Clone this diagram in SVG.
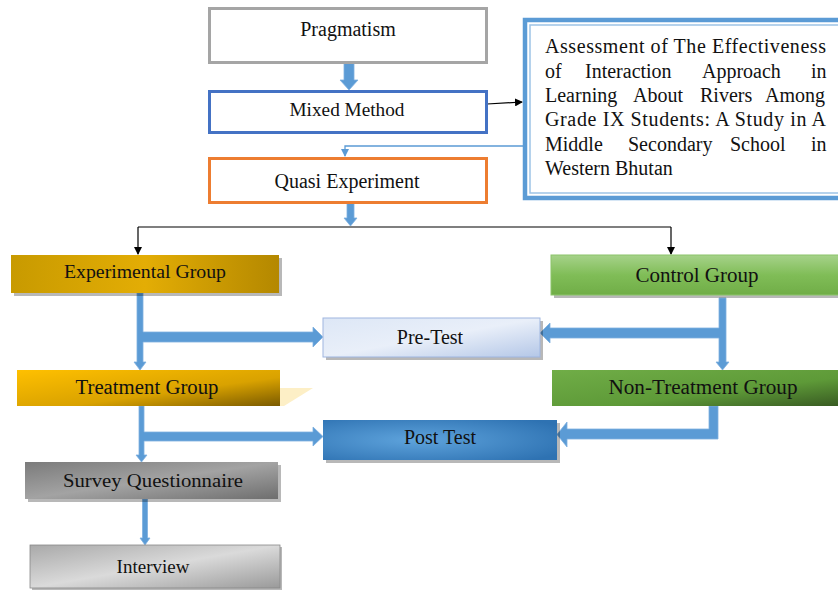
<svg xmlns="http://www.w3.org/2000/svg" width="838" height="590" viewBox="0 0 838 590">
<style>
text{font-family:"Liberation Serif","Times New Roman",serif;fill:#111;}
.lbl{text-anchor:middle;font-size:20px;}
.blk{fill:#5b9bd5;stroke:#7fb0df;stroke-width:0.8;}
.thin{fill:none;stroke:#000;stroke-width:1.2;}
.shadow{fill:#000;opacity:0.28;}
</style>
<defs>
<linearGradient id="gExp" x1="0" y1="0" x2="1" y2="0"><stop offset="0" stop-color="#c89a00"/><stop offset="0.5" stop-color="#e3ad05"/><stop offset="1" stop-color="#b48800"/></linearGradient>
<linearGradient id="gTreat" x1="0" y1="0" x2="1" y2="1"><stop offset="0" stop-color="#ffc000"/><stop offset="0.6" stop-color="#d9a200"/><stop offset="1" stop-color="#7a5a00"/></linearGradient>
<linearGradient id="gCtrl" x1="0" y1="0" x2="0" y2="1"><stop offset="0" stop-color="#a6d28a"/><stop offset="0.5" stop-color="#80bd57"/><stop offset="1" stop-color="#70ad47"/></linearGradient>
<linearGradient id="gNon" x1="0" y1="0" x2="1" y2="1"><stop offset="0" stop-color="#70ad47"/><stop offset="0.6" stop-color="#5e9a38"/><stop offset="1" stop-color="#385a22"/></linearGradient>
<linearGradient id="gPre" x1="0" y1="0" x2="1" y2="1"><stop offset="0" stop-color="#dde7f6"/><stop offset="0.5" stop-color="#e9eff9"/><stop offset="1" stop-color="#b4c7e7"/></linearGradient>
<radialGradient id="gPost" cx="0.4" cy="0.5" r="0.7"><stop offset="0" stop-color="#5ea3dc"/><stop offset="1" stop-color="#2e72b2"/></radialGradient>
<linearGradient id="gSurv" x1="0" y1="0" x2="1" y2="1"><stop offset="0" stop-color="#7b7b7b"/><stop offset="0.5" stop-color="#a3a3a3"/><stop offset="1" stop-color="#6e6e6e"/></linearGradient>
<linearGradient id="gInt" x1="0" y1="0" x2="1" y2="1"><stop offset="0" stop-color="#a9a9a9"/><stop offset="0.5" stop-color="#dadada"/><stop offset="1" stop-color="#9a9a9a"/></linearGradient>
<marker id="ah" markerWidth="8" markerHeight="8" refX="7" refY="4" orient="auto" markerUnits="userSpaceOnUse"><path d="M0,0 L8,4 L0,8 z" fill="#000"/></marker>
<marker id="ahb" markerWidth="8" markerHeight="8" refX="7" refY="4" orient="auto" markerUnits="userSpaceOnUse"><path d="M0,0 L8,4 L0,8 z" fill="#5b9bd5"/></marker>
</defs>

<g id="connectors">
<polygon class="blk" points="344,63 354,63 354,80 358,80 349,90 340,80 344,80"/>
<polyline class="thin" points="487,104 522,102" marker-end="url(#ah)"/>
<polyline fill="none" stroke="#5b9bd5" stroke-width="1.3" points="523,146 345,146 345,156" marker-end="url(#ahb)"/>
<polygon class="blk" points="347,203 354,203 354,218 357,218 350.5,226 344,218 347,218"/>
<polyline class="thin" points="138,227 671,227"/>
<line class="thin" x1="138" y1="227" x2="138" y2="254" marker-end="url(#ah)"/>
<line class="thin" x1="671" y1="227" x2="671" y2="254" marker-end="url(#ah)"/>
<polygon class="blk" points="137,293 143,293 143,332 313,332 313,327 323,337 313,347 313,342 143,342 143,362 146,362 140,370 134,362 137,362"/>
<polygon class="blk" points="719,298 726,298 726,362 729,362 722.5,370 716,362 719,362 719,338 550,338 550,343 540,333 550,323 550,328 719,328"/>
<polygon class="blk" points="139,406 144,406 144,432 313,432 313,427 323,436.5 313,446 313,441 144,441 144,455 147,455 141.5,462 136,455 139,455"/>
<polygon class="blk" points="709,406 718,406 718,439 567,439 567,447 557,434.5 567,422 567,429 709,429"/>
<polygon class="blk" points="142.5,499 147.5,499 147.5,538 150,538 145,545 140,538 142.5,538"/>
</g>

<g id="pragmatism">
<rect x="209.5" y="8.5" width="277" height="54" fill="#fff" stroke="#a5a5a5" stroke-width="3"/>
<text class="lbl" x="348" y="36" font-size="20">Pragmatism</text>
</g>
<g id="mixed-method">
<rect x="209.5" y="91.5" width="277" height="41" fill="#fff" stroke="#4472c4" stroke-width="3"/>
<text class="lbl" x="347" y="116" style="font-size:18px" textLength="115" lengthAdjust="spacingAndGlyphs">Mixed Method</text>
</g>
<g id="quasi-experiment">
<rect x="209.5" y="158.5" width="277" height="44" fill="#fff" stroke="#ed7d31" stroke-width="3"/>
<text class="lbl" x="347" y="188">Quasi Experiment</text>
</g>

<g id="assessment">
<rect x="525" y="20" width="318" height="178" fill="#fff" stroke="#5b9bd5" stroke-width="4.5"/>
<rect x="530" y="25" width="312" height="168" fill="none" stroke="#9dc3e6" stroke-width="1.5"/>
<text style="font-size:20px">
<tspan x="545" y="53" textLength="281" lengthAdjust="spacing">Assessment of The Effectiveness</tspan>
</text>
<text style="font-size:20px"><tspan x="545" y="78">of</tspan><tspan x="585" y="78">Interaction</tspan><tspan x="702" y="78">Approach</tspan><tspan x="811" y="78">in</tspan></text>
<text style="font-size:20px"><tspan x="545" y="102">Learning</tspan><tspan x="633" y="102">About</tspan><tspan x="700" y="102">Rivers</tspan><tspan x="765" y="102">Among</tspan></text>
<text style="font-size:20px"><tspan x="545" y="126" textLength="281" lengthAdjust="spacing">Grade IX Students: A Study in A</tspan></text>
<text style="font-size:20px"><tspan x="545" y="151">Middle</tspan><tspan x="628" y="151">Secondary</tspan><tspan x="730" y="151">School</tspan><tspan x="811" y="151">in</tspan></text>
<text style="font-size:20px"><tspan x="545" y="175">Western Bhutan</tspan></text>
</g>

<g id="experimental-group">
<rect class="shadow" x="14" y="258" width="268" height="38"/>
<rect x="11" y="255" width="268" height="38" fill="url(#gExp)"/>
<text class="lbl" x="145" y="278" style="font-size:19px" textLength="162" lengthAdjust="spacingAndGlyphs">Experimental Group</text>
</g>
<g id="control-group">
<rect class="shadow" x="554" y="258" width="290" height="40"/>
<rect x="551" y="255" width="290" height="40" fill="url(#gCtrl)" stroke="#8cc46a" stroke-width="1"/>
<text class="lbl" x="697" y="282" style="font-size:20px" textLength="123" lengthAdjust="spacingAndGlyphs">Control Group</text>
</g>
<g id="pre-test">
<rect class="shadow" x="326" y="321" width="217" height="39" fill="#8faadc"/>
<rect x="323" y="318" width="217" height="39" fill="url(#gPre)" stroke="#9fb6e0" stroke-width="1"/>
<text class="lbl" x="430" y="344" style="font-size:20px">Pre-Test</text>
</g>
<g id="treatment-group">
<polygon points="280,388 313,388 284,406 280,406" fill="#fdefc6"/>
<rect x="17" y="370" width="263" height="36" fill="url(#gTreat)"/>
<text class="lbl" x="147" y="394" style="font-size:20px" textLength="143" lengthAdjust="spacingAndGlyphs">Treatment Group</text>
</g>
<g id="non-treatment-group">
<rect x="552" y="370" width="290" height="36" fill="url(#gNon)"/>
<text class="lbl" x="703" y="394" style="font-size:20px" textLength="189" lengthAdjust="spacingAndGlyphs">Non-Treatment Group</text>
</g>
<g id="post-test">
<rect class="shadow" x="326" y="423" width="234" height="40"/>
<rect x="323" y="420" width="234" height="40" fill="url(#gPost)"/>
<text class="lbl" x="440" y="444" style="font-size:20px">Post Test</text>
</g>
<g id="survey-questionnaire">
<rect class="shadow" x="28" y="465" width="253" height="37"/>
<rect x="25" y="462" width="253" height="37" fill="url(#gSurv)"/>
<text class="lbl" x="153" y="487" style="font-size:19px" textLength="180" lengthAdjust="spacingAndGlyphs">Survey Questionnaire</text>
</g>
<g id="interview">
<rect class="shadow" x="32" y="547" width="250" height="43"/>
<rect x="30" y="545" width="250" height="43" fill="url(#gInt)" stroke="#888" stroke-width="0.8"/>
<text class="lbl" x="153" y="573" style="font-size:19px">Interview</text>
</g>
</svg>
